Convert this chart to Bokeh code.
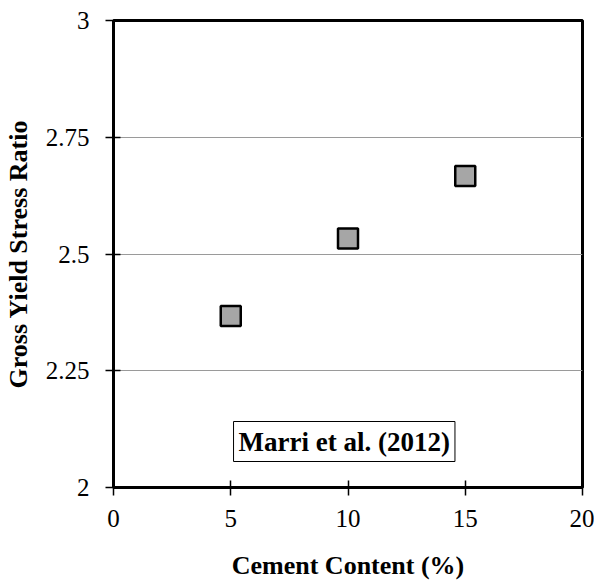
from bokeh.plotting import figure
from bokeh.models import Range1d, FixedTicker, Label
from bokeh.embed import file_html
from bokeh.resources import INLINE

cement = [5, 10, 15]
ratio = [2.367, 2.533, 2.667]
x_ticks = [0, 5, 10, 15, 20]
y_ticks = [2, 2.25, 2.5, 2.75, 3]
y_tick_labels = {2: "2", 2.25: "2.25", 2.5: "2.5", 2.75: "2.75", 3: "3"}

FONT = "Liberation Serif"

p = figure(frame_width=469, frame_height=467, output_backend="svg",
           toolbar_location=None,
           x_range=Range1d(0, 20), y_range=Range1d(2, 3),
           min_border_left=113, min_border_right=12, min_border_top=20,
           min_border_bottom=90)

p.scatter(cement, ratio, marker="square", size=20, fill_color="#A6A6A6",
          line_color="black", line_width=2.5)

p.xaxis.ticker = FixedTicker(ticks=x_ticks)
p.yaxis.ticker = FixedTicker(ticks=y_ticks)
p.yaxis.major_label_overrides = y_tick_labels

for ax in (p.xaxis, p.yaxis):
    ax.axis_line_color = "black"
    ax.axis_line_width = 3
    ax.major_tick_line_color = "black"
    ax.major_tick_line_width = 1.5
    ax.major_tick_in = 7
    ax.major_tick_out = 8
    ax.minor_tick_line_color = None
    ax.major_label_text_font = FONT
    ax.major_label_text_font_size = "25px"
    ax.major_label_text_color = "black"
    ax.axis_label_text_font = FONT
    ax.axis_label_text_font_size = "26px"
    ax.axis_label_text_font_style = "bold"
    ax.axis_label_text_color = "black"

p.xaxis.axis_label = "Cement Content (%)"
p.yaxis.axis_label = "Gross Yield Stress Ratio"
p.xaxis.major_label_standoff = 14
p.yaxis.major_label_standoff = 16
p.xaxis.axis_label_standoff = 21
p.yaxis.axis_label_standoff = 10

p.xgrid.grid_line_color = None
p.ygrid.grid_line_color = "#9a9a9a"
p.ygrid.grid_line_width = 1

p.outline_line_color = "black"
p.outline_line_width = 3
p.outline_line_alpha = 1

p.add_layout(Label(x=9.84, y=2.0985, text="Marri et al. (2012)",
                   text_font=FONT, text_font_size="27px", text_font_style="bold",
                   text_color="black",
                   text_align="center", text_baseline="middle",
                   border_line_color="black", border_line_width=1,
                   background_fill_color="white", padding=5))

open("out.html", "w").write(file_html(p, INLINE))
